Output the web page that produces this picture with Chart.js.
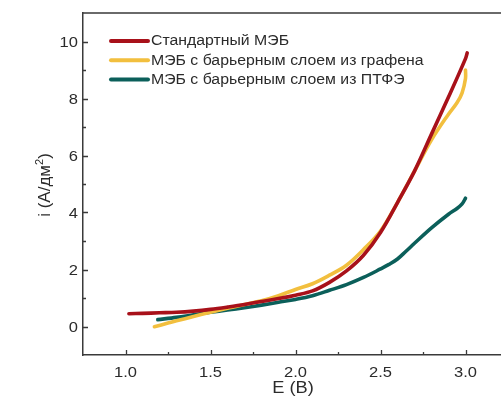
<!DOCTYPE html>
<html>
<head>
<meta charset="utf-8">
<script src="https://cdn.jsdelivr.net/npm/chart.js@4/dist/chart.umd.min.js"></script>
<style>
  html, body { margin: 0; padding: 0; background: #fff; overflow: hidden; width: 501px; height: 396px; }
  #wrap { position: relative; width: 520px; height: 396px; }
</style>
</head>
<body>
<div id="wrap"><canvas id="chart" width="520" height="396"></canvas></div>
<script>
// Polarisation curves: current density i (A/dm²) vs potential E (V)
const seriesLabels = [
  'Стандартный МЭБ',
  'МЭБ с барьерным слоем из графена',
  'МЭБ с барьерным слоем из ПТФЭ'
];
const seriesColors = ['#a8111a', '#f2bf3e', '#0b5f5a'];

const eStandard = [1.02, 1.1, 1.2, 1.3, 1.4, 1.5, 1.6, 1.7, 1.8, 1.9, 2.0, 2.1, 2.2, 2.3, 2.4, 2.5, 2.6, 2.7, 2.8, 2.9, 3.0, 3.01];
const iStandard = [0.45, 0.46, 0.48, 0.5, 0.54, 0.6, 0.68, 0.77, 0.88, 0.98, 1.1, 1.25, 1.55, 1.95, 2.5, 3.3, 4.35, 5.45, 6.75, 8.05, 9.4, 9.6];

const eGraphene = [1.17, 1.25, 1.3, 1.4, 1.5, 1.6, 1.7, 1.8, 1.9, 2.0, 2.1, 2.2, 2.3, 2.4, 2.5, 2.6, 2.7, 2.8, 2.9, 2.95, 2.98, 3.0, 3.0];
const iGraphene = [-0.01, 0.12, 0.2, 0.35, 0.5, 0.64, 0.77, 0.9, 1.08, 1.3, 1.5, 1.8, 2.15, 2.7, 3.35, 4.35, 5.45, 6.55, 7.45, 7.85, 8.2, 8.7, 9.0];

const ePtfe = [1.19, 1.3, 1.4, 1.5, 1.6, 1.7, 1.8, 1.9, 2.0, 2.1, 2.2, 2.3, 2.4, 2.5, 2.55, 2.6, 2.65, 2.7, 2.8, 2.9, 2.95, 2.98, 3.0];
const iPtfe = [0.24, 0.32, 0.41, 0.5, 0.58, 0.66, 0.75, 0.85, 0.95, 1.08, 1.27, 1.47, 1.72, 2.02, 2.18, 2.37, 2.64, 2.92, 3.46, 3.94, 4.14, 4.3, 4.5];

const xMajorTicks = [1.0, 1.5, 2.0, 2.5, 3.0];
const yMajorTicks = [0, 2, 4, 6, 8, 10];
const xMinorTicks = [1.25, 1.75, 2.25, 2.75];
const yMinorTicks = [1, 3, 5, 7, 9];
const xTitle = 'E (В)';
const yTitleMain = 'i (А/дм';
const yTitleSup = '2';
const yTitleEnd = ')';

const pairs = (xs, ys) => xs.map((x, k) => ({ x: x, y: ys[k] }));
const seriesData = [pairs(eStandard, iStandard), pairs(eGraphene, iGraphene), pairs(ePtfe, iPtfe)];

const axisColor = '#3a3a3a';
const textColor = '#2b2b2b';
const fontFamily = '"Liberation Sans", Arial, sans-serif';

// Text with a slight horizontal widening
function wideText(ctx, text, x, y, align, sx) {
  ctx.save();
  ctx.translate(x, y);
  ctx.scale(sx, 1);
  ctx.textAlign = align;
  ctx.fillText(text, 0, 0);
  ctx.restore();
}

// Frame, inward tick marks, tick labels and axis titles
const axesPlugin = {
  id: 'axesDecor',
  afterDraw(chart) {
    const { ctx, chartArea: a, scales } = chart;
    ctx.save();
    ctx.strokeStyle = axisColor;
    ctx.lineWidth = 1.5;
    ctx.beginPath();
    ctx.moveTo(a.left, a.top);
    ctx.lineTo(a.right, a.top);
    ctx.lineTo(a.right, a.bottom);
    ctx.stroke();

    ctx.lineWidth = 1.3;
    ctx.beginPath();
    xMajorTicks.forEach(v => {
      const px = Math.round(scales.x.getPixelForValue(v)) + 0.5;
      ctx.moveTo(px, a.bottom); ctx.lineTo(px, a.bottom - 5);
    });
    xMinorTicks.forEach(v => {
      const px = Math.round(scales.x.getPixelForValue(v)) + 0.5;
      ctx.moveTo(px, a.bottom); ctx.lineTo(px, a.bottom - 3);
    });
    yMajorTicks.forEach(v => {
      const py = Math.round(scales.y.getPixelForValue(v)) + 0.5;
      ctx.moveTo(a.left, py); ctx.lineTo(a.left + 5, py);
    });
    yMinorTicks.forEach(v => {
      const py = Math.round(scales.y.getPixelForValue(v)) + 0.5;
      ctx.moveTo(a.left, py); ctx.lineTo(a.left + 3, py);
    });
    ctx.stroke();

    ctx.fillStyle = textColor;
    ctx.textBaseline = 'alphabetic';
    ctx.font = '14px ' + fontFamily;
    xMajorTicks.forEach(v => {
      wideText(ctx, v.toFixed(1), scales.x.getPixelForValue(v), a.bottom + 21.5, 'center', 1.18);
    });
    yMajorTicks.forEach(v => {
      wideText(ctx, String(v), a.left - 5, scales.y.getPixelForValue(v) + 5, 'right', 1.18);
    });

    ctx.font = '16px ' + fontFamily;
    wideText(ctx, xTitle, 293, 393, 'center', 1.14);

    // vertical title with a raised exponent
    ctx.translate(50, 185);
    ctx.rotate(-Math.PI / 2);
    ctx.textAlign = 'left';
    const mainFont = '17px ' + fontFamily;
    const supFont = '11px ' + fontFamily;
    ctx.font = mainFont;
    const w1 = ctx.measureText(yTitleMain).width;
    const w3 = ctx.measureText(yTitleEnd).width;
    ctx.font = supFont;
    const w2 = ctx.measureText(yTitleSup).width;
    let x0 = -(w1 + w2 + w3) / 2;
    ctx.font = mainFont;
    ctx.fillText(yTitleMain, x0, 0);
    ctx.font = supFont;
    ctx.fillText(yTitleSup, x0 + w1, -7);
    ctx.font = mainFont;
    ctx.fillText(yTitleEnd, x0 + w1 + w2, 0);
    ctx.restore();
  }
};

// Legend drawn inside the plot area
const legendPlugin = {
  id: 'insideLegend',
  afterDatasetsDraw(chart) {
    const { ctx } = chart;
    ctx.save();
    ctx.font = '14px ' + fontFamily;
    ctx.textBaseline = 'middle';
    ctx.fillStyle = textColor;
    chart.data.datasets.forEach((ds, k) => {
      const y = 41 + k * 19.2;
      ctx.strokeStyle = ds.borderColor;
      ctx.lineWidth = 4;
      ctx.lineCap = 'round';
      ctx.beginPath();
      ctx.moveTo(111, y);
      ctx.lineTo(148, y);
      ctx.stroke();
      wideText(ctx, ds.label, 151, y + 0.5, 'left', 1.13);
    });
    ctx.restore();
  }
};

new Chart(document.getElementById('chart'), {
  type: 'line',
  data: {
    datasets: seriesData.map((d, k) => ({
      label: seriesLabels[k],
      data: d,
      borderColor: seriesColors[k],
      backgroundColor: seriesColors[k],
      borderWidth: 3.6,
      borderCapStyle: 'round',
      pointRadius: 0,
      tension: 0.35,
      fill: false
    }))
  },
  options: {
    responsive: false,
    animation: false,
    devicePixelRatio: 1,
    layout: { padding: { top: 13, right: 12, left: 0, bottom: 0 } },
    plugins: { legend: { display: false }, tooltip: { enabled: false } },
    scales: {
      x: {
        type: 'linear',
        min: 0.75,
        max: 3.25,
        afterBuildTicks(scale) { scale.ticks = xMajorTicks.map(v => ({ value: v })); },
        afterFit(scale) { scale.height = 41; },
        grid: { display: false },
        border: { display: true, color: axisColor, width: 1.5 },
        ticks: { display: false },
        title: { display: false }
      },
      y: {
        type: 'linear',
        min: -1,
        max: 11,
        afterBuildTicks(scale) { scale.ticks = yMajorTicks.map(v => ({ value: v })); },
        afterFit(scale) { scale.width = 83; },
        grid: { display: false },
        border: { display: true, color: axisColor, width: 1.5 },
        ticks: { display: false },
        title: { display: false }
      }
    }
  },
  plugins: [axesPlugin, legendPlugin]
});
</script>
</body>
</html>
